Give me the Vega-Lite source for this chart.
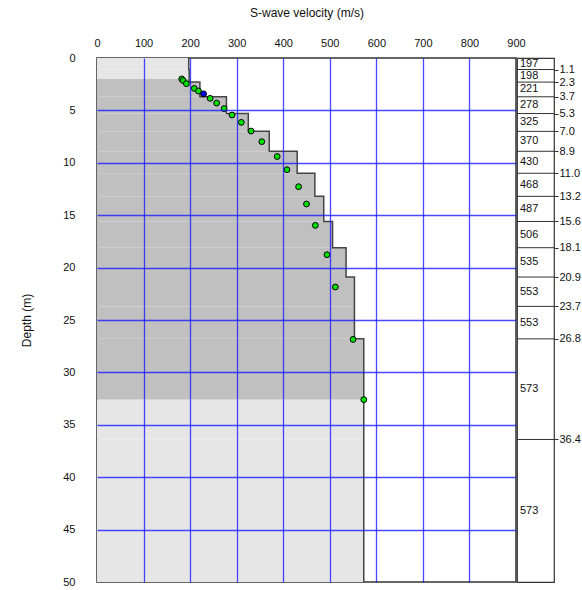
{
  "$schema": "https://vega.github.io/schema/vega-lite/v6.json",
  "padding": {"left": 20, "top": 5, "right": 0, "bottom": 0},
  "bounds": "flush",
  "config": {
    "font": "Liberation Sans",
    "view": {"stroke": "#333333", "strokeWidth": 1.5},
    "axis": {"labelColor": "#111111", "titleColor": "#111111", "labelFont": "Liberation Sans", "titleFont": "Liberation Sans", "titleFontWeight": "normal"}
  },
  "datasets": {
    "layers": [
      {"top": 0, "bottom": 1.1, "v": 197},
      {"top": 1.1, "bottom": 2.3, "v": 198},
      {"top": 2.3, "bottom": 3.7, "v": 221},
      {"top": 3.7, "bottom": 5.3, "v": 278},
      {"top": 5.3, "bottom": 7.0, "v": 325},
      {"top": 7.0, "bottom": 8.9, "v": 370},
      {"top": 8.9, "bottom": 11.0, "v": 430},
      {"top": 11.0, "bottom": 13.2, "v": 468},
      {"top": 13.2, "bottom": 15.6, "v": 487},
      {"top": 15.6, "bottom": 18.1, "v": 506},
      {"top": 18.1, "bottom": 20.9, "v": 535},
      {"top": 20.9, "bottom": 23.7, "v": 553},
      {"top": 23.7, "bottom": 26.8, "v": 553},
      {"top": 26.8, "bottom": 36.4, "v": 573},
      {"top": 36.4, "bottom": 50, "v": 573}
    ],
    "fill": [
      {"top": 0, "bottom": 1.1, "v": 197, "zone": "outside"},
      {"top": 1.1, "bottom": 2.0, "v": 198, "zone": "outside"},
      {"top": 2.0, "bottom": 2.3, "v": 198, "zone": "inside"},
      {"top": 2.3, "bottom": 3.7, "v": 221, "zone": "inside"},
      {"top": 3.7, "bottom": 5.3, "v": 278, "zone": "inside"},
      {"top": 5.3, "bottom": 7.0, "v": 325, "zone": "inside"},
      {"top": 7.0, "bottom": 8.9, "v": 370, "zone": "inside"},
      {"top": 8.9, "bottom": 11.0, "v": 430, "zone": "inside"},
      {"top": 11.0, "bottom": 13.2, "v": 468, "zone": "inside"},
      {"top": 13.2, "bottom": 15.6, "v": 487, "zone": "inside"},
      {"top": 15.6, "bottom": 18.1, "v": 506, "zone": "inside"},
      {"top": 18.1, "bottom": 20.9, "v": 535, "zone": "inside"},
      {"top": 20.9, "bottom": 23.7, "v": 553, "zone": "inside"},
      {"top": 23.7, "bottom": 26.8, "v": 553, "zone": "inside"},
      {"top": 26.8, "bottom": 32.6, "v": 573, "zone": "inside"},
      {"top": 32.6, "bottom": 36.4, "v": 573, "zone": "outside"},
      {"top": 36.4, "bottom": 50, "v": 573, "zone": "outside"}
    ],
    "profile": [
      {"d": 0, "v": 197},
      {"d": 1.1, "v": 198},
      {"d": 2.3, "v": 221},
      {"d": 3.7, "v": 278},
      {"d": 5.3, "v": 325},
      {"d": 7.0, "v": 370},
      {"d": 8.9, "v": 430},
      {"d": 11.0, "v": 468},
      {"d": 13.2, "v": 487},
      {"d": 15.6, "v": 506},
      {"d": 18.1, "v": 535},
      {"d": 20.9, "v": 553},
      {"d": 23.7, "v": 553},
      {"d": 26.8, "v": 573},
      {"d": 36.4, "v": 573},
      {"d": 50, "v": 573}
    ],
    "points": [
      {"d": 2.0, "v": 182, "type": "a"},
      {"d": 2.15, "v": 185, "type": "a"},
      {"d": 2.45, "v": 192, "type": "a"},
      {"d": 2.9, "v": 209, "type": "a"},
      {"d": 3.15, "v": 218, "type": "a"},
      {"d": 3.42, "v": 229, "type": "b"},
      {"d": 3.85, "v": 243, "type": "a"},
      {"d": 4.3, "v": 257, "type": "a"},
      {"d": 4.83, "v": 273, "type": "a"},
      {"d": 5.44, "v": 290, "type": "a"},
      {"d": 6.14, "v": 310, "type": "a"},
      {"d": 6.97, "v": 331, "type": "a"},
      {"d": 7.98, "v": 354, "type": "a"},
      {"d": 9.4, "v": 387, "type": "a"},
      {"d": 10.66, "v": 408, "type": "a"},
      {"d": 12.28, "v": 433, "type": "a"},
      {"d": 13.93, "v": 450, "type": "a"},
      {"d": 15.97, "v": 469, "type": "a"},
      {"d": 18.77, "v": 494, "type": "a"},
      {"d": 21.85, "v": 512, "type": "a"},
      {"d": 26.85, "v": 550, "type": "a"},
      {"d": 32.6, "v": 573, "type": "a"}
    ]
  },
  "spacing": 1,
  "hconcat": [
    {
      "width": 419,
      "height": 524,
      "resolve": {"scale": {"color": "independent"}, "axis": {"x": "independent", "y": "independent"}},
      "layer": [
        {
          "data": {"name": "fill"},
          "mark": {"type": "rect"},
          "encoding": {
            "x": {"field": "v", "type": "quantitative", "title": "S-wave velocity (m/s)",
              "scale": {"domain": [0, 900], "nice": false},
              "axis": {"orient": "top", "values": [0, 100, 200, 300, 400, 500, 600, 700, 800, 900], "ticks": false, "domain": false,
                "labelFontSize": 11, "labelPadding": 10, "titleFontSize": 12, "titlePadding": 18, "labelFlush": false, "grid": false}},
            "x2": {"datum": 0},
            "y": {"field": "top", "type": "quantitative", "title": "Depth (m)",
              "scale": {"domain": [0, 50], "reverse": true, "nice": false},
              "axis": {"orient": "left", "values": [0, 5, 10, 15, 20, 25, 30, 35, 40, 45, 50], "ticks": false, "domain": false,
                "labelFontSize": 11, "labelPadding": 22, "titleFontSize": 12, "titlePadding": 29, "labelFlush": false, "grid": false}},
            "y2": {"field": "bottom"},
            "color": {"field": "zone", "type": "nominal", "scale": {"domain": ["outside", "inside"], "range": ["#e6e6e6", "#c0c0c0"]}, "legend": null}
          }
        },
        {
          "data": {"name": "profile"},
          "mark": {"type": "line", "interpolate": "step-before", "color": "#444444", "strokeWidth": 1.5},
          "encoding": {
            "x": {"field": "v", "type": "quantitative", "title": null,
              "axis": {"orient": "bottom", "values": [100, 200, 300, 400, 500, 600, 700, 800], "labels": false, "ticks": false, "domain": false,
                "grid": true, "gridColor": "#1a1aff", "gridOpacity": 0.8, "gridWidth": 1.3, "zindex": 1}},
            "y": {"field": "d", "type": "quantitative", "title": null,
              "axis": {"orient": "right", "values": [5, 10, 15, 20, 25, 30, 35, 40, 45], "labels": false, "ticks": false, "domain": false,
                "grid": true, "gridColor": "#1a1aff", "gridOpacity": 0.8, "gridWidth": 1.3, "zindex": 1}},
            "order": {"field": "d", "type": "quantitative"}
          }
        },
        {
          "data": {"name": "points"},
          "mark": {"type": "point", "filled": true, "stroke": "#000000", "strokeWidth": 1, "size": 34, "opacity": 1},
          "encoding": {
            "x": {"field": "v", "type": "quantitative", "axis": null},
            "y": {"field": "d", "type": "quantitative", "axis": null},
            "color": {"field": "type", "type": "nominal", "scale": {"domain": ["a", "b"], "range": ["#00e000", "#0000ee"]}, "legend": null}
          }
        }
      ]
    },
    {
      "width": 37,
      "height": 524,
      "view": {"stroke": "#333333", "strokeWidth": 1.2},
      "data": {"name": "layers"},
      "layer": [
        {
          "transform": [{"filter": "datum.bottom < 50"}],
          "mark": {"type": "rule", "color": "#333333", "strokeWidth": 1},
          "encoding": {
            "y": {"field": "bottom", "type": "quantitative", "title": null,
              "scale": {"domain": [0, 50], "reverse": true, "nice": false},
              "axis": {"orient": "right", "values": [1.1, 2.3, 3.7, 5.3, 7.0, 8.9, 11.0, 13.2, 15.6, 18.1, 20.9, 23.7, 26.8, 36.4],
                "format": ".1f", "tickSize": 4, "tickColor": "#333333", "labelPadding": 1, "labelFontSize": 11, "domain": false, "grid": false, "labelFlush": false, "labelOverlap": false}}
          }
        },
        {
          "transform": [
            {"fold": ["top", "bottom"], "as": ["edge", "depth"]},
            {"aggregate": [{"op": "mean", "field": "depth", "as": "mid"}], "groupby": ["top", "v"]}
          ],
          "mark": {"type": "text", "align": "left", "baseline": "middle", "dx": 3, "fontSize": 11, "color": "#111111"},
          "encoding": {
            "x": {"datum": 0, "type": "quantitative", "scale": {"domain": [0, 1]}, "axis": null},
            "y": {"field": "mid", "type": "quantitative", "title": null},
            "text": {"field": "v", "type": "quantitative"}
          }
        }
      ]
    }
  ]
}
